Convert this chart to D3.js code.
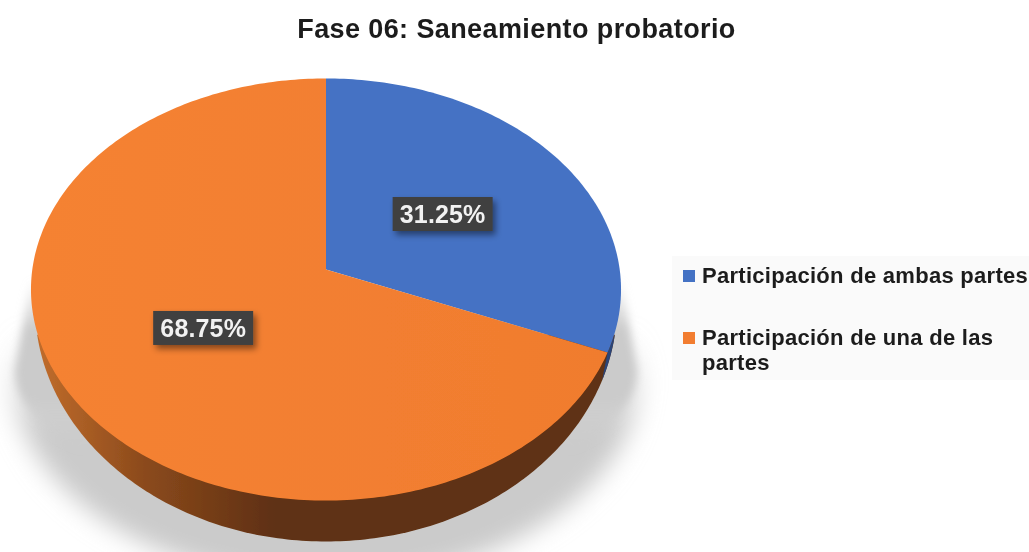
<!DOCTYPE html>
<html>
<head>
<meta charset="utf-8">
<script src="https://cdn.jsdelivr.net/npm/d3@7"></script>
<style>
  html, body { margin: 0; padding: 0; background: #fff; }
  svg { display: block; }
  text { font-family: "Liberation Sans", Arial, sans-serif; font-weight: bold; }
</style>
</head>
<body>
<svg width="1029" height="552"></svg>
<script>
    const title = 'Fase 06: Saneamiento probatorio';
    const categories = ['Participación de ambas partes', 'Participación de una de las partes'];
    const values = [31.25, 68.75];
    const legendLines = [['Participación de ambas partes'], ['Participación de una de las', 'partes']];
    const colors = ['#4472c4', '#f27d30'];

    const svg = d3.select('svg');
    const defs = svg.append('defs');
    const line = d3.line();
    const rad = d => d * Math.PI / 180;

    // top face: perspective projection of the unit circle
    const cx = 326, rx = 293.7, persp = -0.0948, ya = 183.6, yb = 269.5;
    const project = (a, r = 1) => {
        const t = -Math.cos(a) * r;
        const k = 1 + persp * t;
        return [cx + rx * Math.sin(a) * r / k, (ya * t + yb) / k];
    };
    const sample = (fn, a0, a1) => {
        const n = Math.ceil(Math.abs(a1 - a0) * 60);
        return d3.range(n + 1).map(i => fn(a0 + (a1 - a0) * i / n));
    };
    // lower rim of the disc, seen narrower than the face
    const rim = a => [cx + 291 * Math.sin(a), 306 - 235.5 * Math.cos(a)];
    const rimStart = rad(97), rimBlueEnd = rad(108.5);

    const pie = d3.pie().sort(null).value(d => d);
    const slices = pie(values);

    const blur = (id, amount) => defs.append('filter').attr('id', id)
        .attr('x', '-15%').attr('y', '-15%').attr('width', '130%').attr('height', '130%')
        .append('feGaussianBlur').attr('stdDeviation', amount);
    blur('crisp', 0.45);
    blur('soft', 4);
    blur('softer', 12);

    // soft shadow under the disc, tight along the sides and wide at the bottom
    const fade = (id, y1, y2, stops) => {
        const g = defs.append('linearGradient')
            .attr('id', id).attr('gradientUnits', 'userSpaceOnUse')
            .attr('x1', 0).attr('x2', 0).attr('y1', y1).attr('y2', y2);
        stops.forEach(([o, a]) => g.append('stop')
            .attr('offset', o).attr('stop-color', '#cbcbcb').attr('stop-opacity', a));
    };
    fade('shadeWide', 330, 430, [[0, 0], [1, 1]]);
    fade('shadeSide', 280, 450, [[0, 0], [0.3, 1], [0.7, 1], [1, 0]]);

    const shadowOutline = (w, ry) => [[cx + 294, 270]]
        .concat(sample(a => [cx + w * Math.sin(a), 370 - ry * Math.cos(a)], rad(90), rad(270)))
        .concat([[cx - 294, 270]]);
    svg.append('path')
        .attr('d', line(shadowOutline(316, 212)) + 'Z')
        .attr('fill', 'url(#shadeWide)')
        .attr('filter', 'url(#softer)');
    svg.append('path')
        .attr('d', line(shadowOutline(311, 130)) + 'Z')
        .attr('fill', 'url(#shadeSide)')
        .attr('filter', 'url(#soft)');

    const disc = svg.append('g').attr('filter', 'url(#crisp)');

    // side wall
    const wallGrad = defs.append('linearGradient')
        .attr('id', 'wall').attr('gradientUnits', 'userSpaceOnUse')
        .attr('x1', 38).attr('x2', 275).attr('y1', 0).attr('y2', 0);
    wallGrad.append('stop').attr('offset', 0).attr('stop-color', '#c06c2b');
    wallGrad.append('stop').attr('offset', 0.45).attr('stop-color', '#8b4a1c');
    wallGrad.append('stop').attr('offset', 1).attr('stop-color', '#5f3012');

    disc.append('path')
        .attr('d', line(sample(rim, rimStart, rad(360) - rimStart)) + 'Z')
        .attr('fill', 'url(#wall)');
    const blueEdge = project(slices[0].endAngle);
    disc.append('path')
        .attr('d', line(sample(rim, rimStart, rimBlueEnd).concat([blueEdge])) + 'Z')
        .attr('fill', '#2a4478');

    // top face
    const faceGrad = defs.append('linearGradient')
        .attr('id', 'face').attr('gradientUnits', 'userSpaceOnUse')
        .attr('x1', 31).attr('x2', 621).attr('y1', 0).attr('y2', 0);
    faceGrad.append('stop').attr('offset', 0).attr('stop-color', '#f58233');
    faceGrad.append('stop').attr('offset', 1).attr('stop-color', '#f07c2e');

    disc.selectAll('path.slice')
        .data(slices)
        .enter().append('path')
        .attr('class', 'slice')
        .attr('d', d => line([project(0, 0)].concat(sample(project, d.startAngle, d.endAngle))) + 'Z')
        .attr('fill', (d, i) => i === 1 ? 'url(#face)' : colors[i]);

    // data labels
    defs.append('filter').attr('id', 'boxShadow')
        .attr('x', '-20%').attr('y', '-30%').attr('width', '150%').attr('height', '180%')
        .append('feDropShadow')
        .attr('dx', 3).attr('dy', 4).attr('stdDeviation', 3)
        .attr('flood-color', '#000').attr('flood-opacity', 0.45);

    const labelBox = { w: 100, h: 34 };
    const labels = svg.selectAll('g.label')
        .data(slices)
        .enter().append('g')
        .attr('class', 'label')
        .attr('transform', d => {
            const [x, y] = project((d.startAngle + d.endAngle) / 2, 0.49);
            return `translate(${x},${y})`;
        });
    labels.append('rect')
        .attr('x', -labelBox.w / 2).attr('y', -labelBox.h / 2)
        .attr('width', labelBox.w).attr('height', labelBox.h)
        .attr('fill', '#404040')
        .attr('filter', 'url(#boxShadow)');
    labels.append('text')
        .attr('text-anchor', 'middle')
        .attr('dy', '0.36em')
        .attr('fill', '#f2f2f2')
        .attr('filter', 'url(#crisp)')
        .style('font-size', '25px')
        .style('letter-spacing', '0.15px')
        .text(d => `${d.value.toFixed(2)}%`);

    // title
    svg.append('text')
        .attr('x', 516.5).attr('y', 38)
        .attr('text-anchor', 'middle')
        .attr('fill', '#1c1c1c')
        .attr('filter', 'url(#crisp)')
        .style('font-size', '27px')
        .style('letter-spacing', '0.4px')
        .text(title);

    // legend
    svg.append('rect')
        .attr('x', 672).attr('y', 256).attr('width', 357).attr('height', 124)
        .attr('fill', '#fafafa');
    const legend = svg.selectAll('g.legend')
        .data(categories)
        .enter().append('g')
        .attr('class', 'legend')
        .attr('transform', (d, i) => `translate(683, ${i === 0 ? 270 : 332})`);
    legend.append('rect')
        .attr('width', 12).attr('height', 12)
        .attr('fill', (d, i) => colors[i]);
    legend.each(function(d, i) {
        d3.select(this).selectAll('text')
            .data(legendLines[i])
            .enter().append('text')
            .attr('x', 19)
            .attr('y', (l, j) => 13 + j * 25)
            .attr('fill', '#1c1c1c')
            .attr('filter', 'url(#crisp)')
            .style('font-size', '22px')
            .style('letter-spacing', '0.28px')
            .text(l => l);
    });
</script>
</body>
</html>
